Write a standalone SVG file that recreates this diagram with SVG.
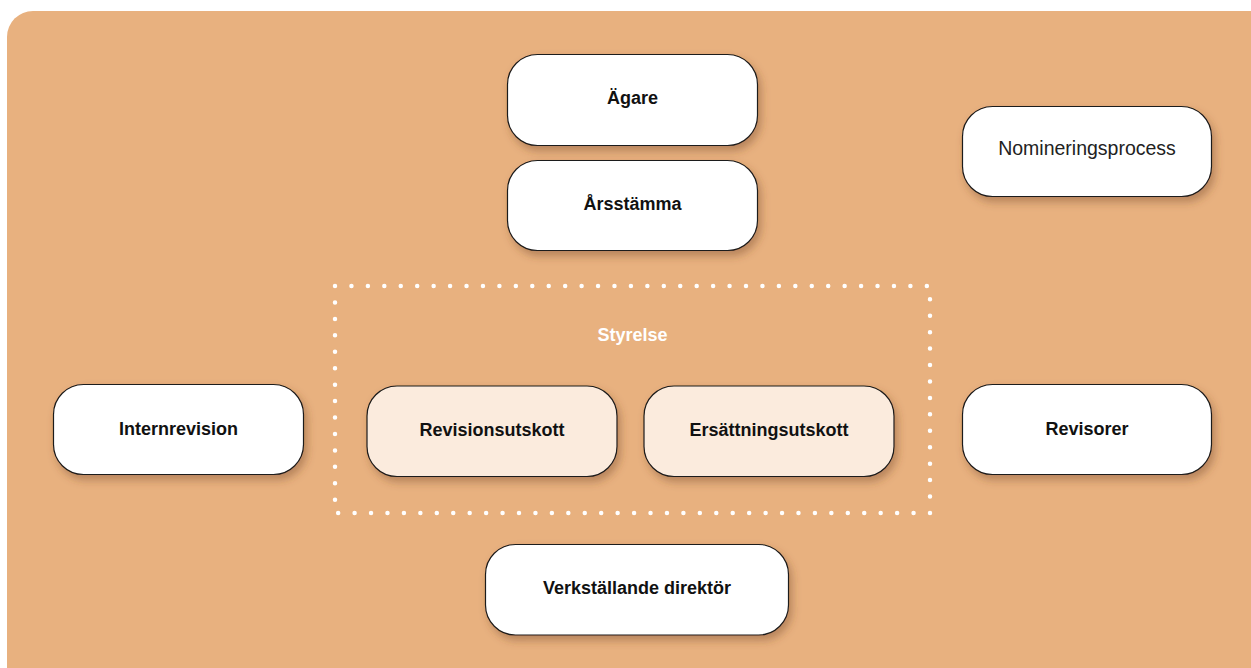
<svg xmlns="http://www.w3.org/2000/svg" width="1251" height="668" viewBox="0 0 1251 668">
<defs>
<filter id="sh" x="-20%" y="-30%" width="140%" height="170%">
<feDropShadow dx="3" dy="5" stdDeviation="4.5" flood-color="#6b4020" flood-opacity="0.4"/>
</filter>
</defs>
<style>
.box{fill:#ffffff;stroke:#1a1a1a;stroke-width:1.2;filter:url(#sh)}
.sub{fill:#FBEBDD;stroke:#1a1a1a;stroke-width:1.2;filter:url(#sh)}
.lbl{font-family:"Liberation Sans",Arial,sans-serif;font-weight:bold;font-size:18px;fill:#111;text-anchor:middle}
.reg{font-family:"Liberation Sans",Arial,sans-serif;font-size:19.5px;fill:#222;text-anchor:middle}
.grp{font-family:"Liberation Sans",Arial,sans-serif;font-weight:bold;font-size:18px;fill:#ffffff;text-anchor:middle}
</style>
<rect id="background" x="7" y="11" width="1290" height="720" rx="26" fill="#E8B17F"/>
<g id="connectors"></g>
<g id="styrelse">
<rect x="335" y="286" width="595" height="227" fill="none" stroke="#ffffff" stroke-width="4.5" stroke-linecap="round" stroke-dasharray="0 16.44"/>
<text class="grp" x="632.5" y="341">Styrelse</text>
</g>
<g id="agare">
<rect class="box" x="507.5" y="54.5" width="250" height="91" rx="30"/>
<text class="lbl" x="632.5" y="104">Ägare</text>
</g>
<g id="arsstamma">
<rect class="box" x="507.5" y="160.5" width="250" height="90" rx="30"/>
<text class="lbl" x="632.5" y="209.5">Årsstämma</text>
</g>
<g id="nomineringsprocess">
<rect class="box" x="962.5" y="106.5" width="249" height="90" rx="30"/>
<text class="reg" x="1087" y="154.5">Nomineringsprocess</text>
</g>
<g id="internrevision">
<rect class="box" x="53.5" y="384.5" width="250" height="90" rx="30"/>
<text class="lbl" x="178.5" y="435">Internrevision</text>
</g>
<g id="revisionsutskott">
<rect class="sub" x="367" y="386" width="250" height="90.5" rx="30"/>
<text class="lbl" x="492" y="436">Revisionsutskott</text>
</g>
<g id="ersattningsutskott">
<rect class="sub" x="644" y="386" width="250" height="90.5" rx="30"/>
<text class="lbl" x="769" y="436">Ersättningsutskott</text>
</g>
<g id="revisorer">
<rect class="box" x="962.5" y="384.5" width="249" height="90" rx="30"/>
<text class="lbl" x="1087" y="435">Revisorer</text>
</g>
<g id="vd">
<rect class="box" x="485.5" y="544.5" width="303" height="90.5" rx="30"/>
<text class="lbl" x="637" y="593.5">Verkställande direktör</text>
</g>
</svg>
